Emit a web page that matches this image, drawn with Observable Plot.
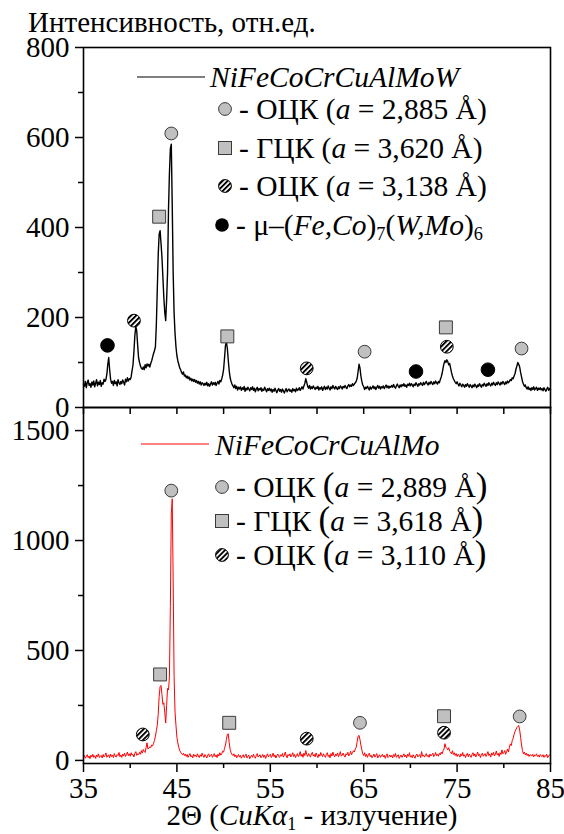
<!DOCTYPE html>
<html><head><meta charset="utf-8">
<script src="https://cdn.jsdelivr.net/npm/d3@7"></script>
<script src="https://cdn.jsdelivr.net/npm/@observablehq/plot@0.6"></script>
<style>
body{margin:0;background:#fff;}
#wrap{position:relative;width:564px;height:834px;overflow:hidden;background:#fff;}
</style></head><body><div id="wrap"></div>
<script>
// XRD scan grid (degrees 2Θ)
const twoThetaStart = 35, twoThetaStep = 0.1;

// NiFeCoCrCuAlMoW intensities (a.u.), 35.0 … 85.0
const intensityW = [
52,47,58,44,55,61,49,53,45,57,
50,59,46,54,62,48,56,51,60,47,
55,52,63,58,62,74,96,111,84,63,
54,58,49,60,53,57,48,62,55,51,
58,53,61,56,50,63,57,66,59,64,
62,68,82,95,125,160,180,170,138,110,
100,92,87,85,90,84,95,88,97,92,
96,90,98,104,112,120,126,135,185,262,
340,385,393,365,334,290,245,212,193,240,
300,440,520,575,585,450,300,210,165,135,
115,104,96,88,84,78,74,79,70,72,
66,70,64,68,61,65,59,63,58,62,
56,60,54,58,52,57,50,55,53,49,
54,50,56,48,53,47,52,57,50,55,
51,56,49,54,58,52,60,57,64,72,
85,110,138,145,132,105,82,66,58,52,
48,44,50,42,47,39,45,41,46,38,
44,40,47,36,43,39,45,41,37,44,
40,46,38,43,35,41,45,37,42,39,
44,36,41,38,45,40,35,42,38,43,
37,41,34,40,36,43,38,33,39,42,
36,40,34,41,37,32,38,42,35,39,
41,36,39,34,42,37,40,35,43,38,
40,44,38,42,46,41,48,54,64,56,
47,43,49,41,46,42,48,44,40,45,
42,47,39,44,41,46,38,43,47,40,
45,41,48,43,39,46,42,49,44,41,
47,43,40,46,42,48,45,41,47,44,
49,45,42,48,51,46,50,47,53,49,
52,55,58,65,80,96,88,70,58,50,
46,40,45,42,47,43,39,46,41,44,
48,42,46,40,45,49,43,47,41,46,
44,48,42,46,50,44,48,43,47,45,
49,45,51,46,43,48,52,47,44,50,
46,51,48,53,47,50,45,52,49,54,
48,53,50,46,52,49,55,51,47,53,
50,55,52,49,56,51,54,58,53,50,
56,52,58,54,51,57,53,59,55,52,
58,55,62,68,76,88,98,104,100,106,
102,95,98,88,78,70,64,60,56,53,
57,52,48,54,50,46,52,49,45,51,
47,53,49,45,51,48,44,50,46,52,
48,44,50,47,53,49,45,51,48,54,
50,47,53,49,55,51,48,54,50,56,
52,49,55,51,57,53,50,56,52,58,
54,51,57,53,59,55,58,62,60,66,
64,70,75,85,92,100,96,90,78,68,
58,52,47,50,44,41,46,40,43,38,
44,40,46,39,42,45,38,43,40,44,
39,42,37,44,40,36,41,45,38,42,
40];

// NiFeCoCrCuAlMo intensities (a.u.), 35.0 … 85.0
const intensityMo = [
15,22,10,18,26,12,20,8,24,16,
28,14,21,9,25,17,30,13,19,23,
11,27,16,22,34,14,20,26,12,29,
18,24,13,31,20,15,27,22,36,17,
25,14,29,21,33,18,26,38,22,30,
19,35,24,28,16,32,40,23,30,26,
37,28,45,33,50,41,36,58,80,52,
55,62,58,70,66,78,90,110,135,160,
210,290,335,341,300,255,262,220,170,250,
327,320,380,700,1120,1190,820,380,220,160,
105,80,60,45,38,30,26,33,22,29,
18,27,14,24,31,16,22,12,28,19,
25,15,30,20,13,26,18,33,21,14,
27,19,11,24,30,16,22,28,14,21,
31,17,25,13,28,20,35,24,30,42,
38,55,70,95,118,121,80,50,35,28,
22,30,17,25,12,20,27,15,23,10,
18,26,13,21,29,11,19,24,8,16,
23,14,28,17,10,22,31,15,20,26,
12,19,27,14,24,9,21,30,16,23,
28,13,20,33,17,25,11,22,29,18,
14,26,19,32,15,23,38,20,12,27,
21,30,16,24,35,18,27,13,22,31,
17,25,40,19,28,14,33,22,45,26,
18,31,24,15,29,37,20,27,16,34,
22,13,28,19,36,24,17,30,21,14,
27,35,18,25,12,31,20,38,23,16,
29,21,34,17,26,40,19,24,33,22,
15,30,25,37,20,28,42,26,35,44,
38,52,60,85,110,114,95,70,48,30,
22,35,18,28,14,26,33,17,24,12,
20,29,15,23,31,11,19,26,14,22,
28,16,24,10,21,30,13,18,25,15,
23,11,27,18,32,14,20,26,9,17,
25,14,21,30,16,24,12,28,19,35,
15,22,12,26,18,10,24,29,16,21,
27,13,40,19,25,15,22,31,18,24,
14,29,20,26,33,17,23,36,21,28,
19,32,25,38,30,44,52,76,60,55,
48,58,42,38,30,44,27,35,22,31,
18,28,24,15,30,21,36,19,26,13,
25,32,17,29,22,14,27,35,20,30,
16,24,38,21,28,13,26,33,19,25,
31,18,27,40,22,29,15,34,24,37,
20,28,43,25,32,18,35,27,48,30,
36,45,28,40,52,38,60,75,68,90,
100,118,132,140,150,155,159,138,105,70,
45,30,38,25,33,22,29,18,26,24,
20,28,16,25,22,30,18,24,15,27,
21,17,26,14,23,19,28,12,22,25,
18];

// Phase markers (position 2Θ, intensity level)
const phaseW  = ["mu","bcc2","fcc","bcc","fcc","bcc2","bcc","mu","fcc","bcc2","mu","bcc"];
const markXW  = [37.57,40.4,43.1,44.4,50.4,58.9,65.1,70.6,73.8,73.9,78.3,81.9];
const markYW  = [138,193,424,609,158,87,124,80,178,135,84,131];
const phaseMo = ["bcc2","fcc","bcc","fcc","bcc2","bcc","fcc","bcc2","bcc"];
const markXMo = [41.35,43.2,44.4,50.6,58.9,64.6,73.6,73.6,81.7];
const markYMo = [118,391,1227,171,99,171,201,126,200];

// Axis ticks
const xMajor = [35,45,55,65,75,85];
const xMinor = [40,50,60,70,80];
const xAll = [35,40,45,50,55,60,65,70,75,80,85];
const yMajorW = [0,200,400,600,800];
const yMinorW = [100,300,500,700];
const yMajorMo = [0,500,1000,1500];
const yMinorMo = [250,750,1250];

// Texts
const yTitle = "Интенсивность, отн.ед.";
const xTitleParts = ["2Θ (", "CuKα", "1", " - излучение)"];
const sampleW = "NiFeCoCrCuAlMoW";
const sampleMo = "NiFeCoCrCuAlMo";
const phaseLabels = ["ОЦК","ГЦК","ОЦК"];
const latticeW = ["2,885","3,620","3,138"];
const latticeMo = ["2,889","3,618","3,110"];

const FONT = "Liberation Serif";
const fmt = d => String(d);

function addHatch(svg, id) {
  const defs = d3.select(svg).insert("defs", ":first-child");
  const p = defs.append("pattern").attr("id", id).attr("patternUnits", "userSpaceOnUse")
    .attr("width", 3.6).attr("height", 3.6).attr("patternTransform", "rotate(-45)");
  p.append("rect").attr("width", 3.6).attr("height", 3.6).attr("fill", "#fff");
  p.append("rect").attr("width", 3.6).attr("height", 1.9).attr("fill", "#000");
}

function makePanel(o) {
  const data = o.values.map((v, i) => ({angle: twoThetaStart + i * twoThetaStep, intensity: v}));
  const markers = o.phases.map((p, i) => ({phase: p, x: o.mx[i], y: o.my[i]}));
  const sel = p => markers.filter(m => m.phase === p);
  const mt = 10, mb = o.labels ? 60 : 12;
  const marks = [
    Plot.line(data, {x: "angle", y: "intensity", stroke: o.stroke, strokeWidth: o.sw}),
    Plot.dot(sel("fcc"), {x: "x", y: "y", symbol: "square", r: 7.3, fill: "#c0c0c0", stroke: "#3a3a3a", strokeWidth: 1}),
    Plot.dot(sel("bcc"), {x: "x", y: "y", r: 6.4, fill: "#c0c0c0", stroke: "#3a3a3a", strokeWidth: 1}),
    Plot.dot(sel("bcc2"), {x: "x", y: "y", r: 6.4, fill: `url(#${o.hatch})`, stroke: "#000", strokeWidth: 1}),
    Plot.dot(sel("mu"), {x: "x", y: "y", r: 6.8, fill: "#000", stroke: "#000", strokeWidth: 1}),
    Plot.axisY(o.yMajor, {anchor: "left", tickSize: 8, tickPadding: 6, strokeWidth: 1.5, fontSize: 29, fontFamily: FONT, tickFormat: fmt, label: null}),
    Plot.axisY(o.yMinor, {anchor: "left", tickSize: 5, strokeWidth: 1.5, tickFormat: () => "", label: null})
  ];
  if (o.labels) {
    marks.push(Plot.axisX(xMajor, {anchor: "bottom", tickSize: 9, tickPadding: 5, strokeWidth: 1.5, fontSize: 29, fontFamily: FONT, tickFormat: fmt, label: null}));
    marks.push(Plot.axisX(xMinor, {anchor: "bottom", tickSize: 5, strokeWidth: 1.5, tickFormat: () => "", label: null}));
  } else {
    marks.push(Plot.axisX(xAll, {anchor: "bottom", tickSize: 7, strokeWidth: 1.5, tickFormat: () => "", label: null}));
  }
  marks.push(Plot.frame({stroke: "#000", strokeWidth: 1.6}));
  const svg = Plot.plot({
    width: 564, height: mt + o.plotHeight + mb,
    marginTop: mt, marginBottom: mb, marginLeft: 83, marginRight: 14,
    x: {domain: [35, 85], label: null},
    y: {domain: o.yDomain, label: null},
    style: {fontFamily: FONT, fontSize: "29px", background: "transparent", overflow: "visible", color: "#000"},
    marks
  });
  addHatch(svg, o.hatch);
  svg.style.position = "absolute";
  svg.style.left = "0px";
  svg.style.top = (o.plotTop - mt) + "px";
  return svg;
}

const wrap = document.getElementById("wrap");
wrap.appendChild(makePanel({values: intensityW, stroke: "#000", sw: 1.4, yDomain: [0, 800], yMajor: yMajorW, yMinor: yMinorW,
  phases: phaseW, mx: markXW, my: markYW, plotTop: 47, plotHeight: 360, labels: false, hatch: "hatchW"}));
wrap.appendChild(makePanel({values: intensityMo, stroke: "#ff0000", sw: 1, yDomain: [-14, 1605], yMajor: yMajorMo, yMinor: yMinorMo,
  phases: phaseMo, mx: markXMo, my: markYMo, plotTop: 407, plotHeight: 356, labels: true, hatch: "hatchMo"}));

// Overlay texts and legends
const ov = d3.select(wrap).append("svg").attr("width", 564).attr("height", 834)
  .style("position", "absolute").style("left", "0px").style("top", "0px")
  .attr("font-family", FONT).attr("font-size", 29).attr("fill", "#000");

ov.append("text").attr("x", 28).attr("y", 32).attr("font-family", FONT).text(yTitle);

function richText(x, y, parts, fs, anchor) {
  const t = ov.append("text").attr("x", x).attr("y", y).attr("font-size", fs).attr("font-family", FONT);
  if (anchor) t.attr("text-anchor", anchor);
  let shift = 0;
  parts.forEach(p => {
    const s = t.append("tspan").text(p.t);
    if (p.i) s.attr("font-style", "italic");
    const target = p.sub ? 5 : 0;
    if (target !== shift) { s.attr("dy", target - shift); shift = target; }
    if (p.sub) s.attr("font-size", fs * 0.62);
    if (p.fs) s.attr("font-size", p.fs);
  });
  return t;
}

function marker(kind, cx, cy, hatch) {
  if (kind === "fcc") ov.append("rect").attr("x", cx - 6.5).attr("y", cy - 6.5).attr("width", 13).attr("height", 13).attr("fill", "#c0c0c0").attr("stroke", "#3a3a3a");
  else if (kind === "bcc") ov.append("circle").attr("cx", cx).attr("cy", cy).attr("r", 6.4).attr("fill", "#c0c0c0").attr("stroke", "#3a3a3a");
  else if (kind === "bcc2") ov.append("circle").attr("cx", cx).attr("cy", cy).attr("r", 6.4).attr("fill", `url(#${hatch})`).attr("stroke", "#000");
  else ov.append("circle").attr("cx", cx).attr("cy", cy).attr("r", 6.8).attr("fill", "#000");
}

// Top legend
ov.append("line").attr("x1", 137).attr("x2", 205).attr("y1", 77).attr("y2", 77).attr("stroke", "#000").attr("stroke-width", 1.2);
richText(210, 87, [{t: sampleW, i: true}], 29.5);
const kinds = ["bcc", "fcc", "bcc2"];
const rowsW = [109, 148, 186];
kinds.forEach((k, i) => {
  marker(k, 225, rowsW[i], "hatchW");
  richText(239, rowsW[i] + 10, [{t: "- " + phaseLabels[i] + " ("}, {t: "a", i: true}, {t: " = " + latticeW[i] + " Å)"}], 29.5);
});
marker("mu", 222, 225, "hatchW");
richText(236, 235, [{t: "- μ–("}, {t: "Fe,Co", i: true}, {t: ")"}, {t: "7", sub: true}, {t: "("}, {t: "W,Mo", i: true}, {t: ")"}, {t: "6", sub: true}], 29.5);

// Bottom legend
ov.append("line").attr("x1", 141).attr("x2", 209).attr("y1", 444).attr("y2", 444).attr("stroke", "#ff0000").attr("stroke-width", 1);
richText(215, 455, [{t: sampleMo, i: true}], 29.5);
const rowsMo = [487, 521, 555];
kinds.forEach((k, i) => {
  marker(k, 222, rowsMo[i], "hatchMo");
  richText(236, rowsMo[i] + 10, [{t: "- " + phaseLabels[i] + " "}, {t: "(", fs: 35}, {t: "a", i: true}, {t: " = " + latticeMo[i] + " Å"}, {t: ")", fs: 35}], 29.5);
});

// X-axis title
richText(312, 825, [{t: xTitleParts[0]}, {t: xTitleParts[1], i: true}, {t: xTitleParts[2], sub: true}, {t: xTitleParts[3]}], 29, "middle");
</script></body></html>
